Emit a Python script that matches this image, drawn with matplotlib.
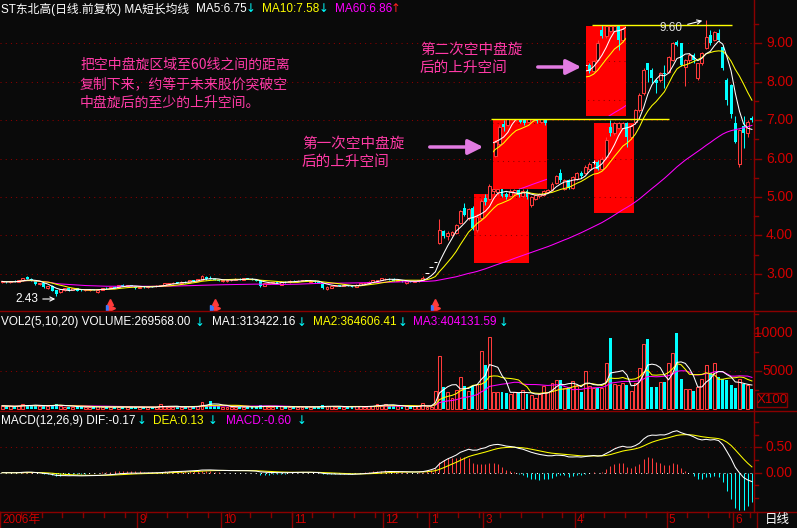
import numpy as np
import pandas as pd
import matplotlib
matplotlib.use("Agg")
import matplotlib.pyplot as plt
import matplotlib.transforms as mtransforms
from matplotlib.patches import Rectangle, FancyArrowPatch
from matplotlib.lines import Line2D

# ---------------- data ----------------
opens = [2.78, 2.80, 2.78, 2.80, 2.79, 2.83, 2.92, 2.86, 2.80, 2.73,
         2.75, 2.64, 2.68, 2.57, 2.53, 2.57, 2.62, 2.58, 2.62, 2.58,
         2.57, 2.57, 2.60, 2.53, 2.58, 2.64, 2.63, 2.65, 2.66, 2.72,
         2.69, 2.70, 2.68, 2.63, 2.66, 2.65, 2.67, 2.67, 2.69, 2.70,
         2.74, 2.75, 2.78, 2.76, 2.79, 2.78, 2.83, 2.82, 2.84, 2.91,
         2.89, 2.86, 2.84, 2.82, 2.80, 2.83, 2.84, 2.87, 2.85, 2.88,
         2.87, 2.84, 2.83, 2.69, 2.74, 2.76, 2.78, 2.71, 2.79, 2.78,
         2.82, 2.81, 2.81, 2.84, 2.79, 2.82, 2.78, 2.74, 2.60, 2.63,
         2.69, 2.71, 2.68, 2.70, 2.68, 2.66, 2.72, 2.75, 2.76, 2.78,
         2.82, 2.84, 2.86, 2.87, 2.87, 2.82, 2.83, 2.77, 2.80, 2.79,
         2.80, 2.84, 3.03, 3.17, 3.31, 3.79, 4.11, 3.98, 4.01, 4.05,
         4.33, 4.72, 4.44, 4.70, 4.14, 4.45, 4.97, 4.95, 5.15, 5.12,
         5.20, 5.08, 5.02, 5.10, 5.18, 5.02, 5.16, 4.80, 4.95, 5.02,
         5.06, 5.14, 5.18, 5.37, 5.63, 5.22, 5.44, 5.24, 5.46, 5.63,
         5.62, 5.74, 5.92, 5.92, 5.74, 6.05, 6.83, 6.66, 6.79, 6.80,
         6.92, 6.57, 6.96, 7.26, 7.70, 8.48, 8.30, 8.04, 8.04, 8.22,
         8.26, 8.57, 9.04, 9.00, 8.39, 8.57, 8.70, 8.09, 8.48, 8.87,
         9.22, 9.09, 9.26, 8.91, 8.04, 7.91, 6.92, 5.87, 6.85, 6.66,
         7.05]
highs = [2.82, 2.82, 2.81, 2.83, 2.84, 2.90, 2.95, 2.88, 2.82, 2.77,
         2.76, 2.69, 2.70, 2.58, 2.60, 2.63, 2.63, 2.63, 2.63, 2.60,
         2.60, 2.61, 2.61, 2.58, 2.63, 2.66, 2.66, 2.67, 2.72, 2.73,
         2.71, 2.71, 2.69, 2.67, 2.68, 2.68, 2.68, 2.70, 2.71, 2.76,
         2.77, 2.78, 2.79, 2.80, 2.81, 2.84, 2.84, 2.87, 2.96, 2.94,
         2.93, 2.88, 2.86, 2.84, 2.84, 2.86, 2.88, 2.88, 2.89, 2.90,
         2.88, 2.85, 2.84, 2.76, 2.77, 2.79, 2.80, 2.80, 2.80, 2.83,
         2.84, 2.83, 2.85, 2.85, 2.83, 2.83, 2.80, 2.75, 2.67, 2.70,
         2.71, 2.72, 2.71, 2.71, 2.70, 2.73, 2.76, 2.77, 2.80, 2.84,
         2.85, 2.89, 2.88, 2.89, 2.88, 2.84, 2.84, 2.81, 2.81, 2.82,
         2.85, 2.93, 3.03, 3.17, 3.31, 4.43, 4.15, 4.11, 4.12, 4.30,
         4.66, 4.85, 4.72, 4.76, 4.55, 4.95, 5.08, 5.35, 5.30, 5.25,
         5.24, 5.12, 5.20, 5.20, 5.22, 5.20, 5.20, 5.02, 5.08, 5.10,
         5.18, 5.22, 5.38, 5.58, 5.72, 5.46, 5.48, 5.55, 5.64, 5.68,
         5.82, 5.90, 5.95, 5.95, 6.05, 6.55, 7.00, 6.95, 6.95, 6.95,
         6.96, 6.90, 7.30, 7.70, 8.35, 8.50, 8.35, 8.10, 8.25, 8.45,
         8.68, 9.03, 9.10, 9.02, 8.60, 8.75, 8.75, 8.50, 8.78, 9.60,
         9.35, 9.33, 9.38, 8.95, 8.10, 7.95, 7.10, 6.78, 7.10, 7.00,
         7.10]
lows = [2.76, 2.77, 2.76, 2.78, 2.78, 2.82, 2.86, 2.81, 2.72, 2.71,
        2.64, 2.61, 2.55, 2.43, 2.50, 2.55, 2.56, 2.57, 2.54, 2.56,
        2.56, 2.55, 2.57, 2.50, 2.57, 2.61, 2.62, 2.63, 2.65, 2.68,
        2.67, 2.67, 2.61, 2.62, 2.64, 2.64, 2.65, 2.66, 2.67, 2.69,
        2.72, 2.74, 2.75, 2.75, 2.77, 2.77, 2.81, 2.81, 2.83, 2.85,
        2.86, 2.83, 2.80, 2.79, 2.79, 2.82, 2.83, 2.84, 2.84, 2.86,
        2.83, 2.80, 2.66, 2.68, 2.73, 2.75, 2.76, 2.70, 2.77, 2.77,
        2.80, 2.80, 2.80, 2.81, 2.78, 2.77, 2.76, 2.61, 2.57, 2.62,
        2.67, 2.67, 2.67, 2.67, 2.65, 2.65, 2.71, 2.73, 2.75, 2.77,
        2.81, 2.83, 2.84, 2.85, 2.81, 2.80, 2.79, 2.74, 2.78, 2.78,
        2.79, 2.83, 3.03, 3.17, 3.31, 3.77, 3.94, 3.89, 3.98, 4.03,
        4.30, 4.50, 4.40, 4.15, 4.10, 4.40, 4.80, 4.92, 5.08, 5.05,
        5.00, 4.95, 5.00, 5.06, 5.00, 5.00, 4.95, 4.75, 4.92, 4.98,
        5.03, 5.10, 5.15, 5.35, 5.40, 5.18, 5.20, 5.22, 5.44, 5.50,
        5.60, 5.72, 5.85, 5.70, 5.72, 6.00, 6.60, 6.62, 6.76, 6.78,
        6.31, 6.50, 6.90, 7.20, 7.65, 8.00, 7.98, 7.70, 8.00, 7.85,
        8.22, 8.55, 8.92, 8.40, 7.90, 8.50, 8.50, 8.05, 8.45, 8.85,
        8.95, 9.05, 9.05, 8.30, 7.40, 7.05, 6.40, 5.79, 6.27, 6.57,
        6.96]
closes = [2.80, 2.78, 2.80, 2.79, 2.83, 2.88, 2.87, 2.83, 2.73, 2.75,
          2.66, 2.68, 2.56, 2.47, 2.59, 2.62, 2.58, 2.62, 2.56, 2.57,
          2.59, 2.60, 2.58, 2.57, 2.62, 2.62, 2.65, 2.64, 2.71, 2.69,
          2.70, 2.68, 2.63, 2.66, 2.65, 2.67, 2.66, 2.69, 2.70, 2.75,
          2.76, 2.77, 2.76, 2.79, 2.78, 2.83, 2.82, 2.86, 2.93, 2.86,
          2.87, 2.84, 2.82, 2.83, 2.83, 2.85, 2.87, 2.85, 2.88, 2.87,
          2.84, 2.82, 2.68, 2.75, 2.76, 2.78, 2.77, 2.79, 2.78, 2.82,
          2.81, 2.82, 2.84, 2.82, 2.82, 2.78, 2.77, 2.63, 2.66, 2.69,
          2.70, 2.68, 2.70, 2.68, 2.66, 2.72, 2.75, 2.76, 2.79, 2.83,
          2.84, 2.88, 2.87, 2.86, 2.82, 2.83, 2.80, 2.80, 2.79, 2.81,
          2.84, 2.89, 3.03, 3.17, 3.31, 4.14, 3.98, 4.07, 4.09, 4.27,
          4.63, 4.53, 4.68, 4.20, 4.49, 4.90, 4.88, 5.28, 5.22, 5.20,
          5.03, 5.00, 5.16, 5.18, 5.05, 5.15, 5.00, 4.99, 5.05, 5.08,
          5.15, 5.18, 5.35, 5.55, 5.44, 5.44, 5.24, 5.52, 5.62, 5.55,
          5.79, 5.87, 5.92, 5.74, 6.00, 6.48, 6.67, 6.92, 6.92, 6.92,
          6.57, 6.85, 7.26, 7.65, 8.31, 8.30, 8.09, 7.96, 8.22, 8.20,
          8.65, 9.00, 8.96, 8.43, 8.57, 8.70, 8.57, 8.48, 8.74, 9.17,
          9.00, 9.30, 9.09, 8.35, 7.52, 7.15, 6.44, 6.74, 6.66, 6.96,
          7.00]
# volume in units of 100 shares
volumes = [420, 380, 350, 300, 450, 620, 560, 400, 520, 330,
           480, 390, 560, 640, 420, 310, 280, 300, 350, 260,
           240, 280, 230, 330, 300, 260, 240, 220, 310, 270,
           250, 230, 300, 260, 240, 230, 220, 250, 620, 380,
           300, 280, 260, 300, 270, 340, 280, 420, 880, 560,
           1050, 420, 330, 300, 280, 320, 300, 260, 280, 250,
           300, 320, 520, 380, 300, 280, 260, 330, 260, 300,
           280, 250, 300, 260, 280, 300, 270, 480, 420, 350,
           300, 280, 260, 270, 300, 330, 350, 320, 380, 420,
           700, 480, 700, 450, 420, 330, 300, 360, 300, 330,
           420, 750, 220, 300, 2370, 6980, 2850, 2200, 1490, 2500,
           4170, 3030, 2370, 3070, 3250, 7640, 5800, 9440, 2280, 2280,
           2280, 2150, 1980, 2280, 2060, 2500, 1980, 1840, 1490, 1930,
           3030, 2280, 3380, 3820, 3820, 2720, 2940, 3690, 3030, 2280,
           5000, 3030, 2720, 2720, 2720, 6100, 9390, 3250, 3160, 3380,
           3160, 2370, 3470, 5360, 8520, 9220, 2940, 2940, 3600, 3600,
           6100, 7330, 10050, 3910, 2630, 2630, 2410, 2940, 3910, 5800,
           4700, 6010, 4170, 3950, 3820, 3160, 2720, 3900, 3300, 3160,
           2696]

month_labels = ["9", "10", "11", "12", "1", "3", "4", "5", "6"]
month_start_bars = [33, 53, 70, 92, 103, 116, 138, 160, 176]

# consolidation boxes (bar index / price) and where the copy was pasted
box_lower = [(113.9, 3.29, 13.1, 1.80), (142.6, 4.57, 9.7, 2.35)]
box_shift = [(4.4, 1.93), (-2.0, 2.53)]
box_top_lines = [(117.4, 160.0, 7.02), (141.6, 175.2, 9.47)]

# bars carrying an information marker under the price panel
info_bars = [26, 51, 104]

# ---------------- styling ----------------
BG = "#0a0a0a"
AXC = "#8a0000"
LBL = "#d20000"
UP = "#ff3b3b"
DOWN = "#00ffff"
YEL = "#ffff00"
MAG = "#ff00ff"
PINK = "#ff3aa6"
LAT = ["Liberation Sans", "Noto Sans CJK SC", "DejaVu Sans"]
CJK = ["Noto Sans CJK SC", "DejaVu Sans"]

W, H = 797, 528
N = len(closes)
x = np.arange(N)
o = np.array(opens); h = np.array(highs); l = np.array(lows); c = np.array(closes)
v = np.array(volumes, dtype=float)

cs = pd.Series(c)
ma5 = cs.rolling(5, min_periods=1).mean()
ma10 = cs.rolling(10, min_periods=1).mean()
ma60 = cs.rolling(60, min_periods=1).mean()
vs = pd.Series(v)
vma5 = vs.rolling(5, min_periods=1).mean()
vma10 = vs.rolling(10, min_periods=1).mean()
vma20 = vs.rolling(20, min_periods=1).mean()
dif = cs.ewm(span=12, adjust=False).mean() - cs.ewm(span=26, adjust=False).mean()
dea = dif.ewm(span=9, adjust=False).mean()
hist = 2 * (dif - dea)

fig = plt.figure(figsize=(W / 100, H / 100), dpi=100, facecolor=BG)


def px_axes(x0, y0, x1, y1):
    ax = fig.add_axes([x0 / W, 1 - y1 / H, (x1 - x0) / W, (y1 - y0) / H])
    ax.set_facecolor(BG)
    ax.set_axis_off()
    ax.set_xlim(-0.5, N - 0.5)
    return ax


ax_p = px_axes(0, 0, 754, 311)
ax_v = px_axes(0, 311, 754, 411)
ax_m = px_axes(0, 411, 754, 512)
ax_p.set_ylim(2.03, 10.13)
ax_v.set_ylim(-263, 12897)
ax_m.set_ylim(-0.777, 1.219)

LW = 0.75
DOT = (0, (1, 4))


def price_layer(ax):
    arts = []
    arts.append(ax.hlines(np.arange(3, 10), -0.5, N - 0.5, colors=AXC, lw=LW, linestyles=DOT, zorder=1))
    up = c > o
    dn = c < o
    dj = c == o
    arts.append(ax.vlines(x[up], l[up], h[up], colors=UP, lw=LW, zorder=3))
    arts.append(ax.vlines(x[dn], l[dn], h[dn], colors=DOWN, lw=LW, zorder=3))
    arts.append(ax.vlines(x[dj], l[dj], h[dj], colors="white", lw=LW, zorder=3))
    arts.extend(ax.bar(x[up], c[up] - o[up], bottom=o[up], width=0.7,
                       facecolor=BG, edgecolor=UP, lw=LW, zorder=3.2).patches)
    arts.extend(ax.bar(x[dn], o[dn] - c[dn], bottom=c[dn], width=0.7,
                       color=DOWN, lw=0, zorder=3.2).patches)
    arts.append(ax.hlines(c[dj], x[dj] - 0.4, x[dj] + 0.4, colors="white", lw=LW, zorder=3.3))
    arts += ax.plot(x, ma60, color=MAG, lw=LW, zorder=4)
    arts += ax.plot(x, ma10, color=YEL, lw=LW, zorder=4)
    arts += ax.plot(x, ma5, color="white", lw=LW, zorder=4)
    return arts


price_layer(ax_p)

# red consolidation boxes and their pasted copies
for (bx, by, bw, bh), (dx, dy) in zip(box_lower, box_shift):
    ax_p.add_patch(Rectangle((bx - 0.5, by), bw, bh, facecolor="#ff0000", edgecolor="none", zorder=0.5))
    ax_p.add_patch(Rectangle((bx - 0.5 + dx, by + dy), bw, bh, facecolor="#ff0000",
                             edgecolor="none", zorder=10))
    clip = Rectangle((bx - 0.5 + dx, by + dy), bw, bh, transform=ax_p.transData)
    shift = mtransforms.Affine2D().translate(dx, dy) + ax_p.transData
    copy_box = Rectangle((bx - 0.5, by), bw, bh, facecolor="#ff0000", edgecolor="none", zorder=0.5)
    ax_p.add_patch(copy_box)
    for art in price_layer(ax_p) + [copy_box]:
        art.set_transform(shift)
        art.set_clip_path(clip)
        art.set_zorder(art.get_zorder() + 10)

for x0, x1, yv in box_top_lines:
    ax_p.hlines(yv, x0, x1, colors=YEL, lw=1.0, zorder=30)

# information-mine markers along the bottom of the price panel
ax_p.plot(info_bars, [2.26] * len(info_bars), ls="none", marker="^", ms=4,
          color=UP, zorder=5)
ax_p.plot(np.array(info_bars) - 0.4, [2.12] * len(info_bars), ls="none", marker=">", ms=4,
          color="#3a7bff", zorder=5)
ax_p.plot(np.array(info_bars) + 0.5, [2.12] * len(info_bars), ls="none", marker=">", ms=4,
          color=UP, zorder=5)

# ---------------- volume panel ----------------
up_v = c >= o
ax_v.hlines(5000, -0.5, N - 0.5, colors=AXC, lw=LW, linestyles=DOT, zorder=1)
ax_v.bar(x[up_v], v[up_v], width=0.7, facecolor=BG, edgecolor=UP, lw=LW, zorder=2)
ax_v.bar(x[~up_v], v[~up_v], width=0.7, color=DOWN, lw=0, zorder=2)
ax_v.plot(x, vma20, color=MAG, lw=LW, zorder=3)
ax_v.plot(x, vma10, color=YEL, lw=LW, zorder=3)
ax_v.plot(x, vma5, color="white", lw=LW, zorder=3)

# ---------------- MACD panel ----------------
ax_m.hlines(0.5, -0.5, N - 0.5, colors=AXC, lw=LW, linestyles=DOT, zorder=1)
ax_m.hlines(0.0, -0.5, N - 0.5, colors="white", lw=LW, linestyles=DOT, zorder=1)
hv = hist.values
ax_m.vlines(x[hv > 0], 0, hv[hv > 0], colors=UP, lw=LW, zorder=2)
ax_m.vlines(x[hv < 0], 0, hv[hv < 0], colors=DOWN, lw=LW, zorder=2)
ax_m.plot(x, dea, color=YEL, lw=LW, zorder=3)
ax_m.plot(x, dif, color="white", lw=LW, zorder=3)


# ---------------- frame lines ----------------
def fline(xs, ys, **kw):
    fig.add_artist(Line2D([xx / W for xx in xs], [1 - yy / H for yy in ys],
                          transform=fig.transFigure, color=AXC, lw=1.0, **kw))


for yy in (311, 411, 512):
    fline([0, W], [yy, yy])
fline([754, 754], [0, 512])
fline([757, 757], [512, H])
fline([0, 0], [512, H])


# right axis labels and ticks
def right_axis(ax, majors, minors, fmt):
    tr = ax.get_yaxis_transform()
    for val in majors:
        ax.plot([1.0, 1.009], [val, val], color=AXC, lw=1.0, transform=tr, clip_on=False)
        ax.text(1.0517, val, fmt(val), color=LBL, fontsize=10, family=LAT,
                ha="right", va="center", transform=tr, clip_on=False)
    for val in minors:
        ax.plot([1.0, 1.005], [val, val], color=AXC, lw=1.0, transform=tr, clip_on=False)


right_axis(ax_p, np.arange(3, 10), np.arange(2.5, 10, 1.0), lambda t: f"{t:.2f}")
right_axis(ax_v, [5000, 10000], [2500, 7500, 12500], lambda t: f"{t:.0f}")
right_axis(ax_m, [0.0, 0.5], [0.25, 0.75, 1.0, -0.25, -0.5], lambda t: f"{t:.2f}")
fig.add_artist(Rectangle((757 / W, 1 - 407 / H), 30 / W, 14 / H, transform=fig.transFigure,
                         facecolor="none", edgecolor=AXC, lw=1.0))
fig.text(772 / W, 1 - 400 / H, "X100", color=LBL, fontsize=9.5, family=LAT, ha="center", va="center")

# ---------------- date axis ----------------
fig.text(2 / W, 1 - 520 / H, "2006年", color=LBL, fontsize=8.5, family=LAT, ha="left", va="center")
for s, lab in zip(month_start_bars, month_labels):
    px = s * 754 / N
    fline([px, px], [512, H])
    fig.text((px + 2) / W, 1 - 520 / H, lab, color=LBL, fontsize=8.5, family=LAT, ha="left", va="center")
for s in range(0, N, 5):
    px = s * 754 / N
    fline([px, px], [512, 517])
fig.text(777 / W, 1 - 520 / H, "日线", color="white", fontsize=9, family=CJK, ha="center", va="center")


# ---------------- headers ----------------
def header(y, parts):
    for txt, px, col in parts:
        fam = ["DejaVu Sans"] if txt in ("↓", "↑") else LAT
        fig.text(px / W, 1 - y / H, txt, color=col, fontsize=8.5, family=fam, ha="left", va="center")


header(9, [("ST东北高(日线.前复权) MA短长均线", 1, "white"), ("MA5:6.75", 196, "white"),
           ("↓", 246, DOWN), ("MA10:7.58", 262, YEL), ("↓", 319, DOWN),
           ("MA60:6.86", 335, MAG), ("↑", 391, "#ff2020")])
header(322, [("VOL2(5,10,20) VOLUME:269568.00", 1, "white"), ("↓", 195, DOWN),
             ("MA1:313422.16", 212, "white"), ("↓", 297, DOWN),
             ("MA2:364606.41", 313, YEL), ("↓", 398, DOWN),
             ("MA3:404131.59", 413, MAG), ("↓", 499, DOWN)])
header(421, [("MACD(12,26,9) DIF:-0.17", 1, "white"), ("↓", 137, DOWN),
             ("DEA:0.13", 153, YEL), ("↓", 208, DOWN),
             ("MACD:-0.60", 226, MAG), ("↓", 297, DOWN)])

# ---------------- annotations ----------------
fig.text(80 / W, 1 - 84 / H, "把空中盘旋区域至60线之间的距离\n复制下来，约等于未来股价突破空\n中盘旋后的至少的上升空间。",
         color=PINK, fontsize=10, family=CJK, ha="left", va="center", linespacing=1.45)
fig.text(302 / W, 1 - 153 / H, "第一次空中盘旋\n后的上升空间", color=PINK, fontsize=10.5,
         family=CJK, ha="left", va="center", linespacing=1.3)
fig.text(420 / W, 1 - 59 / H, "第二次空中盘旋\n后的上升空间", color=PINK, fontsize=10.5,
         family=CJK, ha="left", va="center", linespacing=1.3)

arrow_kw = dict(arrowstyle="-|>,head_length=0.9,head_width=0.45", color="#e27be2", lw=2.5)
fig.add_artist(FancyArrowPatch((427, H - 147), (486, H - 147), transform=None,
                               mutation_scale=10, **arrow_kw))
fig.add_artist(FancyArrowPatch((535, H - 67), (584, H - 67), transform=None,
                               mutation_scale=10, **arrow_kw))

fig.text(15 / W, 1 - 299 / H, "2.43", color="white", fontsize=8.5, family=LAT, ha="left", va="center")
fig.add_artist(FancyArrowPatch((40, H - 299), (58, H - 299), transform=None,
                               arrowstyle="->,head_length=3,head_width=1.5",
                               color="white", lw=0.8, mutation_scale=1))
fig.text(660 / W, 1 - 28 / H, "9.60", color="#e0e0e0", fontsize=8.5, family=LAT, ha="left", va="center")
fig.add_artist(FancyArrowPatch((685, H - 25), (705, H - 20), transform=None,
                               arrowstyle="->,head_length=3,head_width=1.5",
                               color="white", lw=0.8, mutation_scale=1))

fig.savefig("out.png", dpi=100, facecolor=BG)
